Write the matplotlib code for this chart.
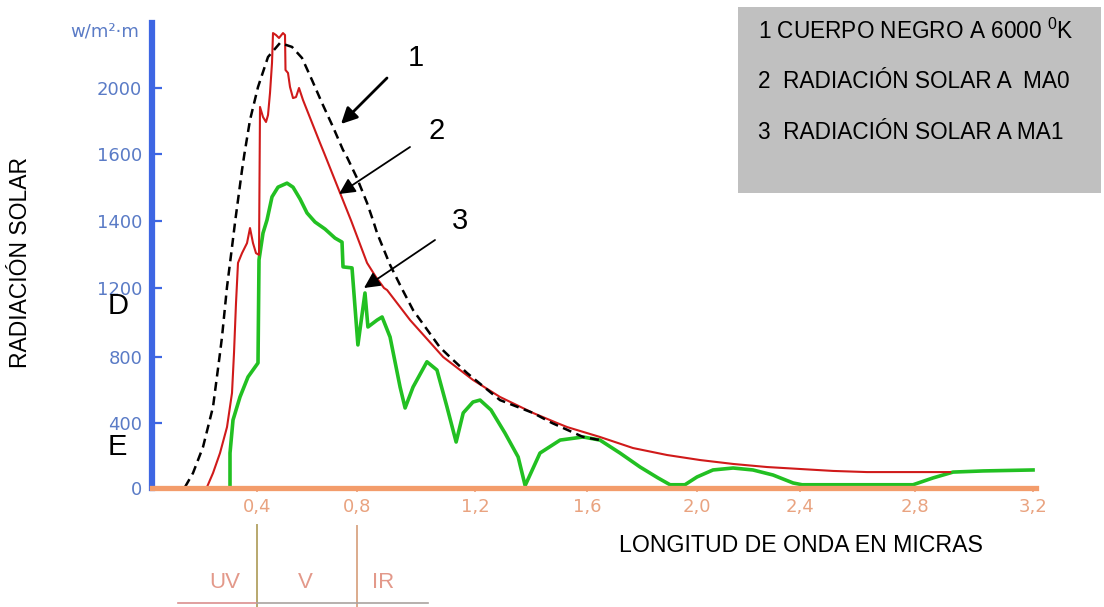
import numpy as np
import matplotlib
matplotlib.use("Agg")
import matplotlib.pyplot as plt
from matplotlib.scale import FuncScale
from matplotlib.ticker import FixedLocator, FixedFormatter
from matplotlib.lines import Line2D
from matplotlib.patches import Rectangle, FancyArrowPatch
from matplotlib.transforms import blended_transform_factory

plt.rcParams["font.family"] = ["Liberation Sans", "DejaVu Sans"]
plt.rcParams["mathtext.default"] = "regular"

# ---- data: wavelength (micras) and spectral irradiance (W/m2·µm) ----
bb_x = [0.112, 0.144, 0.184, 0.224, 0.25, 0.26, 0.28, 0.30, 0.3128, 0.34, 0.3496,
        0.372, 0.404, 0.444, 0.492, 0.54, 0.58, 0.62, 0.66, 0.704, 0.744, 0.754,
        0.80, 0.834, 0.855, 0.868, 0.912, 0.951, 0.99, 1.08, 1.115, 1.173, 1.289,
        1.407, 1.475, 1.586, 1.647]
bb_y = [6, 92, 252, 497, 800, 916, 1203, 1322, 1400, 1552, 1600,
        1806, 2006, 2188, 2273, 2249, 2182, 2048, 1909, 1764, 1624, 1600,
        1528, 1454, 1400, 1364, 1269, 1200, 1072, 858, 800, 703, 539,
        461, 400, 314, 295]

ma0_x = [0.2, 0.224, 0.252, 0.28, 0.30, 0.308, 0.316, 0.319, 0.324, 0.34, 0.36,
         0.372, 0.384, 0.396, 0.408, 0.412, 0.424, 0.436, 0.444, 0.452, 0.46,
         0.464, 0.476, 0.488, 0.504, 0.512, 0.514, 0.524, 0.532, 0.544, 0.556,
         0.568, 0.584, 0.652, 0.67, 0.732, 0.777, 0.834, 0.864, 0.8915, 0.902,
         0.98, 1.092, 1.193, 1.289, 1.407, 1.493, 1.529, 1.647, 1.767, 1.891,
         2.012, 2.14, 2.272, 2.40, 2.515, 2.633, 2.748, 2.919]
ma0_y = [6, 92, 215, 375, 582, 823, 1113, 1200, 1275, 1304, 1334,
         1379, 1334, 1304, 1299, 1885, 1824, 1794, 1836, 1970, 2152,
         2333, 2321, 2303, 2333, 2321, 2109, 2091, 2006, 1939, 1945,
         2000, 1927, 1667, 1600, 1484, 1400, 1275, 1233, 1200, 1188,
         1014, 800, 661, 558, 461, 400, 375, 314, 246, 203,
         172, 148, 129, 117, 105, 98, 98, 98]

ma1_x = [0.292, 0.292, 0.304, 0.332, 0.364, 0.404, 0.408, 0.424, 0.44, 0.46, 0.484,
         0.52, 0.544, 0.572, 0.60, 0.632, 0.672, 0.712, 0.74, 0.744, 0.78,
         0.803, 0.827, 0.837, 0.868, 0.885, 0.912, 0.946, 0.963, 0.99, 1.037,
         1.071, 1.105, 1.136, 1.16, 1.193, 1.218, 1.257, 1.307, 1.354, 1.379,
         1.432, 1.504, 1.586, 1.647, 1.72, 1.793, 1.858, 1.902, 1.956, 2.0,
         2.062, 2.14, 2.217, 2.295, 2.373, 2.407, 2.793, 2.861, 2.929, 3.031, 3.2]
ma1_y = [0, 215, 418, 558, 679, 764, 1284, 1364, 1403, 1472, 1501,
         1513, 1501, 1466, 1424, 1397, 1376, 1349, 1337, 1263, 1260,
         870, 1171, 974, 1014, 1032, 916, 618, 491, 618, 771,
         721, 497, 283, 461, 527, 539, 479, 338, 191, 15,
         215, 295, 314, 295, 215, 129, 62, 20, 20, 68,
         111, 123, 111, 80, 31, 20, 20, 62, 98, 105, 111]

x_ticks = [0.4, 0.8, 1.2, 1.6, 2.0, 2.4, 2.8, 3.2]
x_labels = ["0,4", "0,8", "1,2", "1,6", "2,0", "2,4", "2,8", "3,2"]
y_ticks = [0, 400, 800, 1200, 1400, 1600, 2000]
y_labels = ["0", "400", "800", "1200", "1400", "1600", "2000"]

# ---- hand-drawn (piecewise) axis scales ----
XT = [-0.4, 0.0, 0.4, 0.8, 1.2, 1.6, 2.0, 2.4, 2.8, 3.2, 3.6]
XP = [57, 157, 257, 357, 475, 587, 697, 800, 915, 1033, 1151]
YV = [-400, 0, 400, 800, 1200, 1400, 1600, 2000, 2400, 2800]
YP = [-65, 0, 65, 131, 200, 267, 334, 400, 466, 532]


def xf(v):
    return np.interp(v, XT, XP)


def xi(p):
    return np.interp(p, XP, XT)


def yf(v):
    return np.interp(v, YV, YP)


def yi(p):
    return np.interp(p, YP, YV)


W, H = 1104, 607
fig = plt.figure(figsize=(W / 100, H / 100), dpi=100)


def fx(px):
    return px / W


def fy(py):
    return 1 - py / H


# legend box (behind everything)
fig.add_artist(Rectangle((fx(738), fy(193)), (1101 - 738) / W, (193 - 7) / H,
                         transform=fig.transFigure, facecolor="#c0c0c0",
                         edgecolor="none", zorder=-5))

ax = fig.add_axes([fx(152), fy(488), (1036 - 152) / W, (488 - 23) / H])
ax.patch.set_visible(False)
ax.set_xscale(FuncScale(ax.xaxis, (xf, xi)))
ax.set_yscale(FuncScale(ax.yaxis, (yf, yi)))
ax.set_xlim(-0.02, 3.21)
ax.set_ylim(0, yi(465))

blue = "#3d66e3"
orange = "#f39c6b"
tick_blue = "#5a7bc6"
tick_orange = "#e9a380"

ax.plot(ma1_x, ma1_y, color="#22c022", lw=2.6, zorder=2, solid_joinstyle="round")
ax.plot(ma0_x, ma0_y, color="#d01a1a", lw=1.5, zorder=3, solid_joinstyle="round")
ax.plot(bb_x, bb_y, color="black", lw=1.8, ls=(0, (3.6, 2.2)), zorder=4)

for s in ("top", "right"):
    ax.spines[s].set_visible(False)
ax.spines["left"].set_color(blue)
ax.spines["left"].set_linewidth(4.5)
ax.spines["bottom"].set_color(orange)
ax.spines["bottom"].set_linewidth(3.8)
ax.spines["bottom"].set_zorder(5)

ax.xaxis.set_major_locator(FixedLocator(x_ticks))
ax.xaxis.set_major_formatter(FixedFormatter(x_labels))
ax.yaxis.set_major_locator(FixedLocator(y_ticks))
ax.yaxis.set_major_formatter(FixedFormatter(y_labels))
ax.xaxis.set_minor_locator(FixedLocator([]))
ax.yaxis.set_minor_locator(FixedLocator([]))
ax.tick_params(axis="y", direction="in", length=7, width=1.6, color=blue,
               labelcolor=tick_blue, labelsize=13, pad=7)
ax.tick_params(axis="x", direction="out", length=3, width=1.2, color=tick_orange,
               labelcolor=tick_orange, labelsize=13, pad=4)
for lab in ax.get_xticklabels() + ax.get_yticklabels():
    lab.set_fontfamily("DejaVu Sans")

# unit label on top of the vertical axis
fig.text(fx(139), fy(32), "w/m²·m", ha="right", va="center", fontsize=13,
         color=tick_blue, family="DejaVu Sans")

# axis titles
fig.text(fx(21), fy(263), "RADIACIÓN SOLAR", rotation=90, ha="center", va="center",
         fontsize=16.5)
fig.text(fx(801), fy(545), "LONGITUD DE ONDA EN MICRAS", ha="center", va="center",
         fontsize=16.7)

# D / E marks
fig.text(fx(118), fy(306), "D", ha="center", va="center", fontsize=21)
fig.text(fx(117), fy(447), "E", ha="center", va="center", fontsize=21)

# curve numbers with arrows
for num, (tx, ty) in zip(["1", "2", "3"], [(416, 58), (437, 131), (460, 221)]):
    fig.text(fx(tx), fy(ty), num, ha="center", va="center", fontsize=21)
arrows = [((387, 78), (341, 124), 2.0), ((410, 147), (339, 194), 1.3),
          ((435, 240), (364, 288), 1.3)]
for (x0, y0), (x1, y1), lw in arrows:
    fig.add_artist(FancyArrowPatch(
        (fx(x0), fy(y0)), (fx(x1), fy(y1)), transform=fig.transFigure,
        arrowstyle="-|>", mutation_scale=24, lw=lw, color="black",
        shrinkA=0, shrinkB=0))

# legend rows
legend_rows = ["1 CUERPO NEGRO A 6000 $^{0}$K", "2  RADIACIÓN SOLAR A  MA0",
               "3  RADIACIÓN SOLAR A MA1"]
for row, ty in zip(legend_rows, [31, 82, 132]):
    fig.text(fx(758), fy(ty), row, ha="left", va="center", fontsize=16.3)

# spectral band bar below the axis: UV / V / IR
bt = blended_transform_factory(ax.transData, fig.transFigure)
fig.add_artist(Line2D([0.4, 0.4], [fy(525), fy(607)], transform=bt,
                      color="#b8a86e", lw=1.4))
fig.add_artist(Line2D([0.8, 0.8], [fy(526), fy(607)], transform=bt,
                      color="#dcab8c", lw=1.4))
fig.add_artist(Line2D([fx(178), fx(257)], [fy(603), fy(603)],
                      transform=fig.transFigure, color="#da8f8f", lw=1.2))
fig.add_artist(Line2D([fx(257), fx(428)], [fy(603), fy(603)],
                      transform=fig.transFigure, color="#aaa3a0", lw=1.2))
for lab, px in [("UV", 225), ("V", 305), ("IR", 383)]:
    fig.text(fx(px), fy(582), lab, ha="center", va="center", fontsize=16,
             color="#e3998a")

fig.savefig("out.png", dpi=100)
